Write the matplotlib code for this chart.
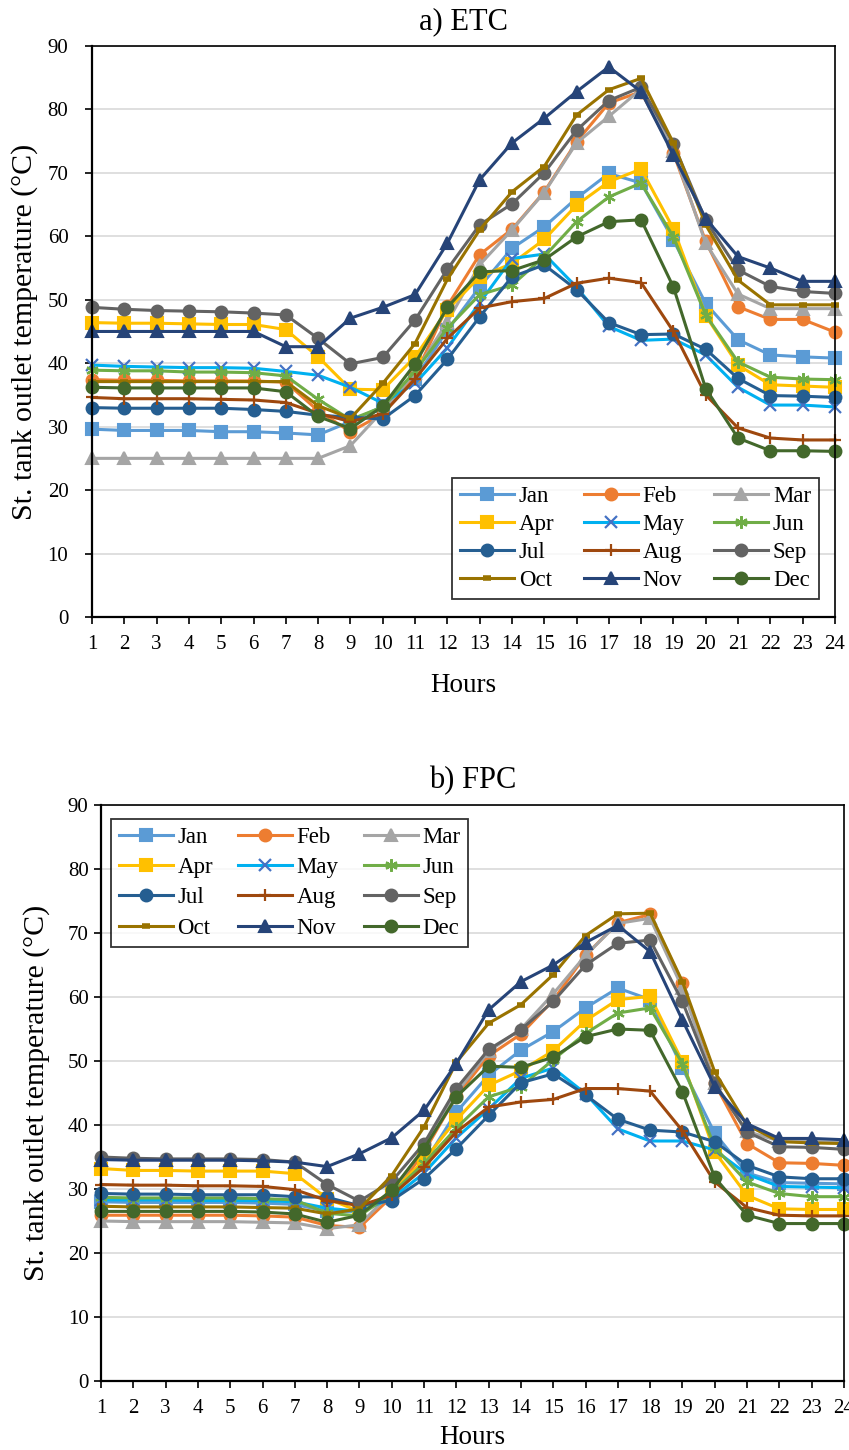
import matplotlib
matplotlib.use('Agg')
import matplotlib.pyplot as plt

plt.rcParams['font.family'] = ['Liberation Serif', 'DejaVu Serif']

hours = list(range(1, 25))
months = ['Jan', 'Feb', 'Mar', 'Apr', 'May', 'Jun', 'Jul', 'Aug', 'Sep', 'Oct', 'Nov', 'Dec']

# a) ETC - storage tank outlet temperature (°C)
etc_jan = [29.6, 29.4, 29.4, 29.4, 29.2, 29.2, 29.0, 28.7, 30.8, 33.2, 37.5, 45.2, 52.0, 58.1, 61.5, 66.0, 69.9, 68.4, 59.4, 49.4, 43.7, 41.3, 41.0, 40.8]
etc_feb = [37.4, 37.3, 37.3, 37.2, 37.2, 37.2, 37.0, 32.5, 29.2, 32.0, 38.0, 49.0, 57.1, 61.1, 67.0, 74.9, 81.0, 82.8, 73.1, 59.2, 48.9, 46.9, 46.9, 44.9]
etc_mar = [25.0, 25.0, 25.0, 25.0, 25.0, 25.0, 25.0, 25.0, 27.0, 32.5, 38.5, 46.5, 55.5, 61.0, 66.9, 74.7, 78.9, 83.2, 73.5, 58.9, 50.9, 48.6, 48.6, 48.6]
etc_apr = [46.4, 46.3, 46.3, 46.2, 46.1, 46.1, 45.3, 41.0, 35.9, 35.8, 41.0, 48.4, 53.6, 55.7, 59.5, 64.9, 68.6, 70.6, 61.2, 47.5, 39.7, 36.6, 36.4, 36.2]
etc_may = [39.7, 39.5, 39.4, 39.3, 39.3, 39.2, 38.7, 38.1, 36.2, 33.7, 36.8, 42.4, 49.5, 56.5, 57.2, 52.0, 45.8, 43.6, 43.8, 41.3, 36.2, 33.4, 33.4, 33.1]
etc_jun = [38.9, 38.8, 38.8, 38.6, 38.6, 38.5, 38.0, 34.3, 31.1, 33.1, 38.7, 45.5, 50.8, 52.3, 56.8, 62.3, 66.2, 68.4, 59.9, 47.6, 40.2, 37.8, 37.5, 37.4]
etc_jul = [33.0, 32.9, 32.9, 32.9, 32.9, 32.7, 32.4, 31.8, 31.5, 31.2, 34.9, 40.6, 47.3, 53.6, 55.5, 51.6, 46.4, 44.5, 44.6, 42.2, 37.6, 34.9, 34.8, 34.6]
etc_aug = [34.6, 34.4, 34.4, 34.4, 34.3, 34.2, 33.8, 32.1, 30.8, 32.0, 37.5, 43.9, 48.7, 49.7, 50.2, 52.6, 53.4, 52.7, 45.0, 35.0, 29.8, 28.2, 27.9, 27.9]
etc_sep = [48.8, 48.5, 48.3, 48.2, 48.1, 47.9, 47.6, 43.9, 39.9, 40.9, 46.8, 54.8, 61.8, 65.1, 70.0, 76.7, 81.4, 83.5, 74.6, 62.5, 54.7, 52.1, 51.3, 51.0]
etc_oct = [37.1, 37.1, 37.1, 37.1, 37.1, 37.1, 37.1, 33.3, 31.3, 36.8, 43.1, 53.2, 61.0, 67.0, 71.0, 79.1, 83.1, 84.9, 74.7, 61.8, 53.1, 49.2, 49.2, 49.2]
etc_nov = [45.0, 45.0, 45.0, 45.0, 45.0, 45.0, 42.6, 42.6, 47.1, 48.8, 50.8, 58.9, 68.9, 74.7, 78.6, 82.8, 86.7, 82.8, 72.8, 62.8, 56.8, 55.0, 52.9, 52.9]
etc_dec = [36.2, 36.1, 36.1, 36.1, 36.1, 36.1, 35.5, 31.6, 29.7, 33.2, 39.9, 48.8, 54.4, 54.6, 56.3, 59.9, 62.3, 62.6, 52.0, 36.0, 28.2, 26.2, 26.2, 26.1]

# b) FPC - storage tank outlet temperature (°C)
fpc_jan = [28.0, 27.9, 27.9, 27.9, 27.9, 27.8, 27.6, 26.5, 26.5, 29.0, 34.0, 42.0, 47.8, 51.7, 54.6, 58.3, 61.4, 59.6, 48.9, 38.7, 32.5, 31.0, 30.9, 30.8]
fpc_feb = [25.9, 25.9, 25.9, 25.9, 25.9, 25.8, 25.6, 24.3, 24.0, 28.8, 35.8, 44.5, 50.8, 54.2, 59.5, 66.5, 71.6, 72.9, 62.2, 46.5, 37.1, 34.1, 34.0, 33.7]
fpc_mar = [25.0, 24.9, 24.9, 24.9, 24.9, 24.8, 24.7, 23.8, 24.4, 29.5, 36.5, 45.0, 51.5, 55.0, 60.5, 66.5, 71.5, 72.3, 61.4, 46.5, 39.0, 37.5, 37.4, 37.3]
fpc_apr = [33.2, 32.9, 32.9, 32.8, 32.8, 32.8, 32.4, 28.5, 26.5, 29.5, 34.5, 40.8, 46.2, 48.5, 51.6, 56.3, 59.6, 60.1, 49.9, 35.8, 29.0, 26.9, 26.8, 26.8]
fpc_may = [28.3, 28.3, 28.3, 28.2, 28.2, 28.2, 28.0, 27.0, 26.5, 28.5, 32.5, 38.0, 42.5, 47.3, 48.9, 44.9, 39.4, 37.5, 37.5, 36.1, 32.3, 30.4, 30.3, 30.2]
fpc_jun = [28.7, 28.6, 28.6, 28.6, 28.6, 28.5, 28.3, 26.2, 25.8, 29.3, 34.0, 39.5, 44.4, 46.0, 50.2, 54.3, 57.5, 58.3, 49.6, 36.5, 31.1, 29.3, 28.8, 28.8]
fpc_jul = [29.3, 29.2, 29.2, 29.1, 29.1, 29.1, 28.8, 28.7, 27.4, 28.2, 31.6, 36.3, 41.5, 46.6, 48.0, 44.7, 40.9, 39.2, 38.9, 37.4, 33.7, 31.9, 31.6, 31.6]
fpc_aug = [30.7, 30.6, 30.6, 30.5, 30.5, 30.4, 29.9, 28.2, 27.4, 29.0, 33.4, 38.9, 42.8, 43.6, 44.0, 45.7, 45.7, 45.3, 39.1, 31.1, 27.1, 25.9, 25.8, 25.8]
fpc_sep = [35.0, 34.8, 34.7, 34.7, 34.7, 34.6, 34.2, 30.7, 28.1, 31.2, 37.1, 45.7, 51.8, 54.9, 59.3, 65.0, 68.4, 68.9, 59.3, 46.5, 38.9, 36.6, 36.5, 36.2]
fpc_oct = [27.3, 27.2, 27.2, 27.2, 27.2, 27.1, 27.0, 26.1, 26.9, 32.1, 39.7, 49.8, 55.9, 58.8, 63.5, 69.6, 73.0, 73.1, 62.4, 48.3, 40.0, 37.4, 37.2, 37.1]
fpc_nov = [34.6, 34.5, 34.5, 34.5, 34.5, 34.4, 34.2, 33.5, 35.5, 38.0, 42.3, 49.6, 58.0, 62.4, 65.0, 68.5, 71.2, 67.1, 56.4, 46.0, 40.2, 37.9, 37.9, 37.7]
fpc_dec = [26.5, 26.5, 26.5, 26.5, 26.5, 26.4, 26.1, 24.8, 25.9, 29.8, 36.3, 44.4, 49.2, 49.0, 50.6, 53.8, 55.0, 54.8, 45.2, 31.8, 25.9, 24.6, 24.6, 24.6]

etc_series = [etc_jan, etc_feb, etc_mar, etc_apr, etc_may, etc_jun,
              etc_jul, etc_aug, etc_sep, etc_oct, etc_nov, etc_dec]
fpc_series = [fpc_jan, fpc_feb, fpc_mar, fpc_apr, fpc_may, fpc_jun,
              fpc_jul, fpc_aug, fpc_sep, fpc_oct, fpc_nov, fpc_dec]

# Excel-like styles: (line colour, marker, marker colour, marker size)
styles = [
    ('#5B9BD5', 's', '#5B9BD5', 8.5),
    ('#ED7D31', 'o', '#ED7D31', 8.5),
    ('#A5A5A5', '^', '#A5A5A5', 9),
    ('#FFC000', 's', '#FFC000', 8.5),
    ('#00B0F0', 'x', '#4472C4', 8),
    ('#70AD47', (6, 2, 0), '#70AD47', 9),
    ('#255E91', 'o', '#255E91', 8.5),
    ('#9E480E', '+', '#9E480E', 9),
    ('#636363', 'o', '#636363', 8.5),
    ('#997300', '_', '#997300', 6),
    ('#264478', '^', '#264478', 9),
    ('#43682B', 'o', '#43682B', 8.5),
]


def draw(fig, ax, series, title, legend_loc, legend_anchor, ypad, xlabelpad,
         ylabelpad, legspacing, legcols):
    handles = []
    for name, vals, (lc, mk, mc, ms) in zip(months, series, styles):
        mew = 1.5
        if mk in ('x', '+') or isinstance(mk, tuple):
            mew = 1.6
        if mk == '_':
            mew = 4
        h, = ax.plot(hours, vals, color=lc, lw=2.2, marker=mk, markersize=ms,
                     markerfacecolor=mc, markeredgecolor=mc, markeredgewidth=mew,
                     label=name, clip_on=False)
        handles.append(h)

    ax.set_xlim(1, 24)
    ax.set_ylim(0, 90)
    ax.set_xticks(hours)
    ax.set_yticks(range(0, 91, 10))
    ax.yaxis.grid(True, color='#D9D9D9', lw=1.2)
    ax.set_axisbelow(True)
    for s in ax.spines.values():
        s.set_color('black')
        s.set_linewidth(1.2)
    ax.spines['left'].set_linewidth(1.6)
    ax.spines['bottom'].set_linewidth(1.6)
    ax.tick_params(axis='both', direction='out', length=5, width=1.2,
                   labelsize=15, colors='black')
    ax.tick_params(axis='x', pad=8)
    ax.tick_params(axis='y', pad=ypad)

    ax.set_title(title, fontsize=22, pad=12)
    ax.set_xlabel('Hours', fontsize=19.5, labelpad=xlabelpad)
    ax.set_ylabel('St. tank outlet temperature (°C)', fontsize=21.5,
                  labelpad=ylabelpad)

    # legend filled row by row (Jan Feb Mar / Apr May Jun / ...)
    order = [0, 3, 6, 9, 1, 4, 7, 10, 2, 5, 8, 11]
    leg = ax.legend([handles[i] for i in order], [months[i] for i in order],
                    ncol=3, loc=legend_loc, bbox_to_anchor=legend_anchor,
                    bbox_transform=fig.transFigure, fontsize=16.5, frameon=True,
                    fancybox=False, edgecolor='black', handlelength=2.35,
                    handletextpad=0.2, columnspacing=legcols,
                    labelspacing=legspacing, borderpad=0.35, borderaxespad=0)
    leg.get_frame().set_linewidth(1.3)


fig = plt.figure(figsize=(8.49, 14.5), dpi=100)
ax1 = fig.add_axes([0.1084, 0.5745, 0.875, 0.3938])
ax2 = fig.add_axes([0.119, 0.0476, 0.875, 0.3972])

draw(fig, ax1, etc_series, 'a) ETC', 'lower right', (0.9647, 0.5869),
     12, 14, 7, 0.3, 1.3)
draw(fig, ax2, fpc_series, 'b) FPC', 'upper left', (0.1307, 0.4352),
     4, 5, 13, 0.4, 1.1)

fig.savefig('out.png', dpi=100)
